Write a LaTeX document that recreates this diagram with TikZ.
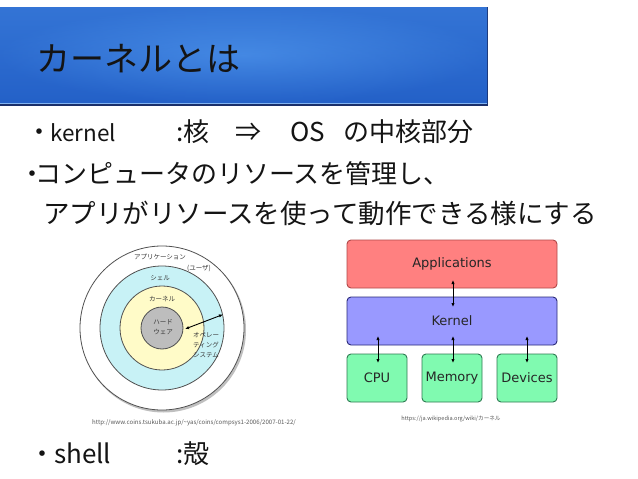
\documentclass[tikz,border=0pt]{standalone}
\usepackage{fontspec}
\setmainfont{Noto Sans CJK JP}
\newfontfamily\dejavu{DejaVu Sans}
\usetikzlibrary{arrows.meta,shadows}
\definecolor{barlight}{HTML}{4C92EA}
\definecolor{bardark}{HTML}{2461C8}
\definecolor{baredge}{HTML}{1A2F6A}
\definecolor{txt}{HTML}{141414}
\definecolor{ringcyan}{HTML}{C8F2F6}
\definecolor{ringyellow}{HTML}{FFFBC8}
\definecolor{ringgray}{HTML}{BDBDBD}
\definecolor{ringedge}{HTML}{505050}
\definecolor{appfill}{HTML}{FF8080}
\definecolor{appedge}{HTML}{B04848}
\definecolor{kerfill}{HTML}{9999FF}
\definecolor{keredge}{HTML}{2A2A78}
\definecolor{hwfill}{HTML}{80FAB0}
\definecolor{hwedge}{HTML}{2F7A52}
\tikzset{
  body/.style={inner sep=0pt, text=txt, font=\fontsize{26}{30}\selectfont},
  ringlabel/.style={inner sep=0pt, text=black!78, font=\fontsize{6.5}{8}\selectfont, align=center},
  ring/.style={draw=ringedge, line width=0.8pt},
  layerbox/.style={rounded corners=4pt, line width=0.9pt, inner sep=0pt, font=\dejavu\fontsize{13}{15}\selectfont, text=black!85},
  dblarrow/.style={line width=0.9pt, {Latex[length=4pt,width=3.4pt]}-{Latex[length=4pt,width=3.4pt]}},
  caption/.style={inner sep=0pt, text=black!65, font=\fontsize{5.6}{7}\selectfont}
}
\begin{document}
\begin{tikzpicture}[x=1pt,y=-1pt]
\useasboundingbox (0,0) rectangle (638,479);
\fill[white] (0,0) rectangle (638,479);
% title bar
\fill[baredge] (0,7) rectangle (488,105.5);
\shade[top color=barlight, bottom color=bardark] (0,7) rectangle (487,103);
\shade[inner color=barlight, outer color=bardark, opacity=0.6] (0,7) rectangle (487,103);
\fill[barlight!70!white] (0,102.5) rectangle (487,103.5);
\node[body, anchor=west, font=\fontsize{34}{38}\selectfont] (title) at (36,58.5) {カーネルとは};

% line 1
\node[body, anchor=base] (bul1) at (39.5,141) {・};
\node[body, anchor=base west, font=\fontsize{22.5}{26}\selectfont] (kern) at (50,141) {kernel};
\node[body, anchor=base west] (colk) at (176,141) {:核};
\node[body, anchor=base west] (impl) at (235,141) {⇒};
\node[body, anchor=base west] (os) at (290,141) {OS};
\node[body, anchor=base east] (core) at (474,141) {の中核部分};

% line 2
\node[body, anchor=base] (bul2) at (32.5,183) {・};
\node[body, anchor=base west] (res) at (35,183) {コンピュータのリソースを管理し、};
% line 3
\node[body, anchor=base west, font=\fontsize{26.5}{30}\selectfont] (app) at (43,223) {アプリがリソースを使って動作できる様にする};

% shell line
\node[body, anchor=base] (bul3) at (42.5,463) {・};
\node[body, anchor=base west] (shell) at (54,463) {shell};
\node[body, anchor=base west] (colsh) at (176,463) {:殻};

% concentric diagram
\coordinate (cc) at (162,328);
\fill[black!25] (163.5,330) circle (82.5);
\draw[ring, fill=white] (cc) circle (82);
\draw[ring, fill=ringcyan] (cc) circle (62);
\draw[ring, fill=ringyellow] (cc) circle (42);
\draw[ring, fill=ringgray] (cc) circle (21);
\node[ringlabel] (lapp) at (160,257) {アプリケーション};
\node[ringlabel] (luser) at (199,268) {(ユーザ)};
\node[ringlabel] (lshell) at (160,278) {シェル};
\node[ringlabel] (lkern) at (162,299) {カーネル};
\node[ringlabel] (lhw) at (163,327.5) {ハード\\[2pt]ウェア};
\node[ringlabel] (los) at (206,345.5) {オペレー\\[2pt]ティング\\[2pt]システム};
\coordinate (osa) at (185,329);
\coordinate (osb) at (223,314.5);
\draw[dblarrow] (osa) -- (osb);
\node[caption, font=\fontsize{6.1}{7}\selectfont] (url1) at (194,423) {http://www.coins.tsukuba.ac.jp/\textasciitilde yas/coins/compsys1-2006/2007-01-22/};

% layered diagram
\node[layerbox, fill=appfill, draw=appedge, minimum width=210pt, minimum height=48pt] (apps) at (452,264) {Applications};
\node[layerbox, fill=kerfill, draw=keredge, minimum width=210pt, minimum height=48pt] (kernel) at (452,321) {Kernel};
\node[layerbox, fill=hwfill, draw=hwedge, minimum width=60pt, minimum height=48pt] (cpu) at (377,378) {CPU};
\node[layerbox, fill=hwfill, draw=hwedge, minimum width=60pt, minimum height=48pt] (mem) at (452,378) {Memory};
\node[layerbox, fill=hwfill, draw=hwedge, minimum width=60pt, minimum height=48pt] (dev) at (527,378) {Devices};
\coordinate (ak1) at (453,280);
\coordinate (ak2) at (453,307);
\coordinate (kc1) at (378,336);
\coordinate (kc2) at (378,363);
\coordinate (km1) at (453,336);
\coordinate (km2) at (453,363);
\coordinate (kd1) at (527,336);
\coordinate (kd2) at (527,363);
\draw[dblarrow] (ak1) -- (ak2);
\draw[dblarrow] (kc1) -- (kc2);
\draw[dblarrow] (km1) -- (km2);
\draw[dblarrow] (kd1) -- (kd2);
\node[caption] (url2) at (451,419) {https://ja.wikipedia.org/wiki/カーネル};
\end{tikzpicture}
\end{document}
